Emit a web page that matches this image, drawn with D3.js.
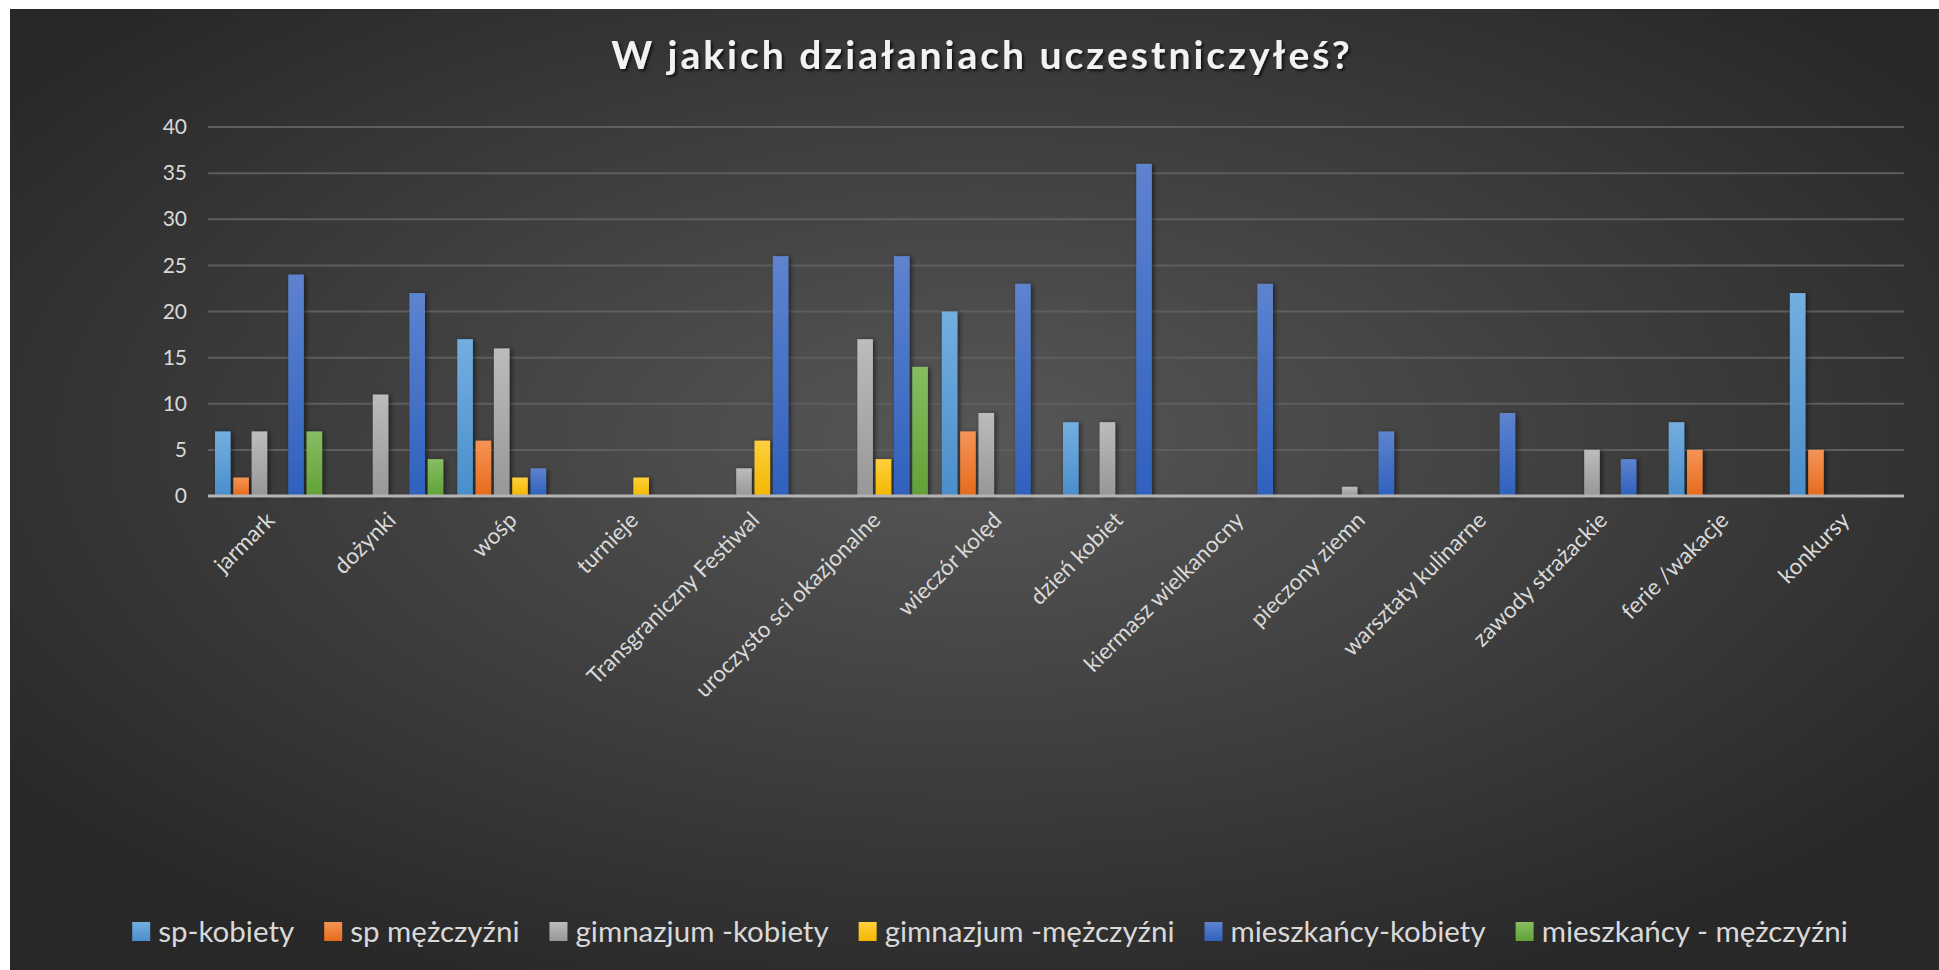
<!DOCTYPE html>
<html>
<head>
<meta charset="utf-8">
<script src="https://cdnjs.cloudflare.com/ajax/libs/d3/7.8.5/d3.min.js"></script>
<style>
    body { margin: 0; background: #ffffff; }
    svg text { font-family: Lato, "Open Sans", sans-serif; }
</style>
</head>
<body>
<script>
// chart data
var categories = ["jarmark", "dożynki", "wośp", "turnieje", "Transgraniczny Festiwal",
    "uroczysto sci okazjonalne", "wieczór kolęd", "dzień kobiet", "kiermasz wielkanocny",
    "pieczony ziemn", "warsztaty kulinarne", "zawody strażackie", "ferie /wakacje", "konkursy"];
var seriesNames = ["sp-kobiety", "sp mężczyźni", "gimnazjum -kobiety", "gimnazjum -mężczyźni",
    "mieszkańcy-kobiety", "mieszkańcy - mężczyźni"];
var spKobiety      = [7, 0, 17, 0, 0, 0, 20, 8, 0, 0, 0, 0, 8, 22];
var spMezczyzni    = [2, 0, 6, 0, 0, 0, 7, 0, 0, 0, 0, 0, 5, 5];
var gimKobiety     = [7, 11, 16, 0, 3, 17, 9, 8, 0, 1, 0, 5, 0, 0];
var gimMezczyzni   = [0, 0, 2, 2, 6, 4, 0, 0, 0, 0, 0, 0, 0, 0];
var mieszKobiety   = [24, 22, 3, 0, 26, 26, 23, 36, 23, 7, 9, 4, 0, 0];
var mieszMezczyzni = [7, 4, 0, 0, 0, 14, 0, 0, 0, 0, 0, 0, 0, 0];
var yTicks = [0, 5, 10, 15, 20, 25, 30, 35, 40];
var title = "W jakich działaniach uczestniczyłeś?";

var seriesValues = [spKobiety, spMezczyzni, gimKobiety, gimMezczyzni, mieszKobiety, mieszMezczyzni];
// top / bottom colours of the bar gradients
var colors = [
    ["#74aee0", "#4a8ecb"],
    ["#f59456", "#e56b1c"],
    ["#bcbcbc", "#979797"],
    ["#ffd03c", "#f2b700"],
    ["#5e83cf", "#2f61bd"],
    ["#86be62", "#62a138"]
];

var width = 1939, height = 970;
var plot = {left: 208, right: 1904, top: 127, bottom: 496};

var svg = d3.select("body").append("svg")
    .attr("width", width)
    .attr("height", height);

var defs = svg.append("defs");

var bg = defs.append("radialGradient")
    .attr("id", "bg")
    .attr("cx", "0.5").attr("cy", "0.45").attr("r", "0.62");
bg.append("stop").attr("offset", "0%").attr("stop-color", "#575757");
bg.append("stop").attr("offset", "100%").attr("stop-color", "#282828");

colors.forEach(function(c, i) {
    var g = defs.append("linearGradient")
        .attr("id", "bar" + i)
        .attr("x1", 0).attr("y1", 0).attr("x2", 0).attr("y2", 1);
    g.append("stop").attr("offset", "0%").attr("stop-color", c[0]);
    g.append("stop").attr("offset", "100%").attr("stop-color", c[1]);
});

var shadow = defs.append("filter").attr("id", "shadow")
    .attr("x", "-50%").attr("y", "-10%").attr("width", "200%").attr("height", "120%");
shadow.append("feDropShadow")
    .attr("dx", 2).attr("dy", 1).attr("stdDeviation", 2.5)
    .attr("flood-color", "#000").attr("flood-opacity", 0.55);

var titleShadow = defs.append("filter").attr("id", "tshadow");
titleShadow.append("feDropShadow")
    .attr("dx", 2).attr("dy", 2).attr("stdDeviation", 1.5)
    .attr("flood-color", "#000").attr("flood-opacity", 0.7);

// background
svg.append("rect")
    .attr("x", 10).attr("y", 9)
    .attr("width", width - 10).attr("height", height - 9)
    .attr("fill", "url(#bg)");

svg.append("text")
    .attr("x", 982).attr("y", 69)
    .attr("text-anchor", "middle")
    .attr("fill", "#f2f2f2")
    .style("font-size", "39px")
    .style("font-weight", "bold")
    .style("letter-spacing", "3px")
    .attr("filter", "url(#tshadow)")
    .text(title);

var x0 = d3.scaleBand()
    .domain(categories)
    .range([plot.left, plot.right]);

var x1 = d3.scaleBand()
    .domain(d3.range(seriesNames.length))
    .range([7, x0.bandwidth() - 7])
    .paddingInner(0.15);

var y = d3.scaleLinear()
    .domain([0, 40])
    .range([plot.bottom, plot.top]);

// gridlines
svg.append("g")
    .selectAll("line")
    .data(yTicks.slice(1))
    .enter().append("line")
    .attr("x1", plot.left).attr("x2", plot.right)
    .attr("y1", function(d) { return y(d); })
    .attr("y2", function(d) { return y(d); })
    .attr("stroke", "#5e5e5e")
    .attr("stroke-width", 2);

// y axis labels
var yAxis = svg.append("g")
    .attr("transform", "translate(" + (plot.left - 10) + ",0)")
    .call(d3.axisLeft(y).tickValues(yTicks).tickSize(0).tickPadding(11));
yAxis.select(".domain").remove();
yAxis.selectAll("text")
    .attr("fill", "#d9d9d9")
    .style("font-size", "21px")
    .style("font-family", "Lato, sans-serif");

// bars
var groups = svg.append("g")
    .selectAll("g")
    .data(categories)
    .enter().append("g")
    .attr("transform", function(d) { return "translate(" + x0(d) + ",0)"; });

groups.selectAll("rect")
    .data(function(d, ci) {
        return seriesValues.map(function(vals, si) { return {s: si, v: vals[ci]}; });
    })
    .enter().append("rect")
    .filter(function(d) { return d.v > 0; })
    .attr("x", function(d) { return x1(d.s); })
    .attr("width", x1.bandwidth())
    .attr("y", function(d) { return y(d.v); })
    .attr("height", function(d) { return y(0) - y(d.v); })
    .attr("fill", function(d) { return "url(#bar" + d.s + ")"; })
    .attr("filter", "url(#shadow)");

// base line
svg.append("line")
    .attr("x1", plot.left).attr("x2", plot.right)
    .attr("y1", y(0)).attr("y2", y(0))
    .attr("stroke", "#b4b4b4")
    .attr("stroke-width", 3);

// category labels
svg.append("g")
    .selectAll("text")
    .data(categories)
    .enter().append("text")
    .attr("transform", function(d) {
        return "translate(" + (x0(d) + x0.bandwidth() / 2 + 2) + "," + (y(0) + 20) + ") rotate(-45)";
    })
    .attr("text-anchor", "end")
    .attr("dy", "0.35em")
    .attr("fill", "#d9d9d9")
    .style("font-size", "22.5px")
    .text(function(d) { return d; });

// legend
var legend = svg.append("g");
var items = legend.selectAll("g")
    .data(seriesNames)
    .enter().append("g");
items.append("rect")
    .attr("width", 18).attr("height", 19)
    .attr("y", -10)
    .attr("fill", function(d, i) { return "url(#bar" + i + ")"; });
items.append("text")
    .attr("x", 26)
    .attr("dy", "0.35em")
    .attr("fill", "#d9d9d9")
    .style("font-size", "29.5px")
    .text(function(d) { return d; });

var pos = 0;
items.each(function() {
    var w = d3.select(this).select("text").node().getComputedTextLength();
    d3.select(this).attr("transform", "translate(" + pos + ",0)");
    pos += 26 + w + 30;
});
pos -= 30;
legend.attr("transform", "translate(" + (990 - pos / 2) + ",932)");
</script>
</body>
</html>
